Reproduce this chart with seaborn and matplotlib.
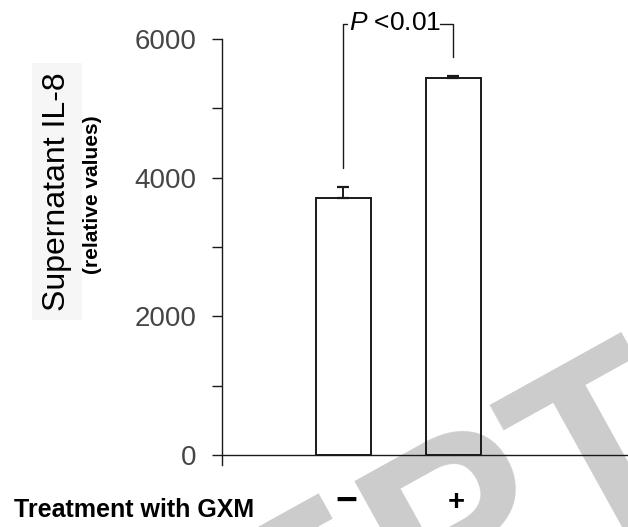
import numpy as np
import pandas as pd
import seaborn as sns
import matplotlib.pyplot as plt

# values
groups = ["−", "+"]
il8_mean = [3700, 5440]
il8_err = [170, 30]

df = pd.DataFrame({"GXM": groups, "IL8": il8_mean})

sns.set_style("ticks")
plt.rcParams["font.family"] = ["Liberation Sans", "DejaVu Sans"]
plt.rcParams["mathtext.fontset"] = "custom"
plt.rcParams["mathtext.it"] = "Liberation Sans:italic"
plt.rcParams["mathtext.rm"] = "Liberation Sans"

ink = "#1a1a1a"

fig = plt.figure(figsize=(6.28, 5.27), dpi=100)
ax = fig.add_axes([0.3535, 0.1176, 0.6465, 0.8084])
ax.set_facecolor("none")

# grey watermark behind everything
fig.text(333 / 628, 1 - 472 / 527, "PTED", rotation=29, rotation_mode="anchor",
         ha="left", va="top", fontsize=184, fontweight="bold", color="#cccccc", zorder=-1)
fig.text(328 / 628, 1 - 475 / 527, "ACCE", rotation=29, rotation_mode="anchor",
         ha="right", va="top", fontsize=184, fontweight="bold", color="#cccccc", zorder=-1)

sns.barplot(data=df, x="GXM", y="IL8", order=groups, fill=False, color=ink,
            width=0.5, linewidth=1.4, errorbar=None, ax=ax)

# upper-only error bars
ax.errorbar([0, 1], il8_mean, yerr=[[0, 0], il8_err], fmt="none", ecolor=ink,
            elinewidth=1.4, capsize=4.5, capthick=1.6, zorder=3)

ax.set_xlim(-1.106, 2.592)
ax.set_ylim(-144, 6000)
ax.set_yticks([0, 2000, 4000, 6000])
ax.set_yticks([1000, 3000, 5000], minor=True)
ax.tick_params(axis="y", which="both", length=7.2, width=1.0, color=ink,
               direction="out", pad=11, labelsize=20, labelcolor="#454545")
ax.set_xticks([])
ax.set_xlabel("")
ax.set_ylabel("")

sns.despine(ax=ax, top=True, right=True, bottom=True)
ax.spines["left"].set_color(ink)
ax.spines["left"].set_linewidth(1.0)
ax.axhline(0, color=ink, lw=1.0, clip_on=False, zorder=2)

# significance bracket
top = 6220
ax.plot([0, 0, 0.03], [4140, top, top], color=ink, lw=1.0, clip_on=False)
ax.plot([0.88, 1, 1], [top, top, 5745], color=ink, lw=1.0, clip_on=False)
ax.text(0.475, top + 10, r"$\it{P}$ <0.01", ha="center", va="center",
        fontsize=19, color="black", clip_on=False)

# group labels under the axis
label_size = [27, 21]
label_y = [-0.110, -0.1056]
for i, g in enumerate(groups):
    ax.text(i + 0.03, label_y[i], g, transform=ax.get_xaxis_transform(),
            ha="center", va="baseline", fontsize=label_size[i], fontweight="bold",
            color="black")

fig.text(14 / 628, 1 - 517 / 527, "Treatment with GXM", ha="left", va="baseline",
         fontsize=18, fontweight="bold", color="black")

fig.text(57 / 628, 1 - 191.5 / 527, "Supernatant IL-8", rotation=90, ha="center",
         va="center", fontsize=23, color="black",
         bbox=dict(facecolor="#f6f6f6", edgecolor="none", pad=7))
fig.text(93 / 628, 1 - 195 / 527, "(relative values)", rotation=90, ha="center",
         va="center", fontsize=15, fontweight="bold", color="black")

fig.savefig("out.png", dpi=100)
